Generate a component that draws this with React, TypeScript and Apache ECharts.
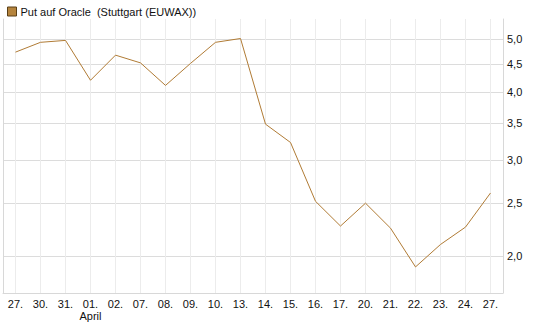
import React, { useEffect, useRef } from "react";
import * as echarts from "echarts";

const categories = ["27.", "30.", "31.", "01.", "02.", "07.", "08.", "09.", "10.", "13.", "14.", "15.", "16.", "17.", "20.", "21.", "22.", "23.", "24.", "27."];
const values = [4.73, 4.93, 4.97, 4.2, 4.67, 4.52, 4.11, 4.51, 4.93, 5.01, 3.49, 3.23, 2.52, 2.27, 2.5, 2.25, 1.91, 2.1, 2.26, 2.61];
const yTicks = [2.0, 2.5, 3.0, 3.5, 4.0, 4.5, 5.0];
const seriesName = "Put auf Oracle  (Stuttgart (EUWAX))";
const yMin = 1.711;
const yMax = 5.44;

const FONT = "'Liberation Sans', Arial, sans-serif";

export default function App() {
  const ref = useRef<HTMLDivElement>(null);
  useEffect(() => {
    if (!ref.current) return;
    const chart = echarts.init(ref.current, null, { renderer: "svg" });
    const lnTicks = yTicks.map((v) => Math.log(v));
    const fmt = (v: number) => Math.exp(v).toFixed(1).replace(".", ",");
    chart.setOption({
      animation: false,
      textStyle: { fontFamily: FONT },
      legend: {
        show: true,
        left: 2,
        top: 1,
        itemWidth: 9,
        itemHeight: 9,
        itemGap: 5,
        icon: "rect",
        textStyle: { fontFamily: FONT, fontSize: 11, color: "#111", padding: [0, 0, 0, -1] },
        data: [{ name: seriesName, itemStyle: { color: "#b5843d", borderColor: "#5a3f16", borderWidth: 1 } }],
      },
      grid: { left: 3, right: 42, top: 19, bottom: 34, containLabel: false },
      xAxis: {
        type: "category",
        data: categories,
        boundaryGap: true,
        axisLine: { show: true, lineStyle: { color: "#d8d8d8", width: 1 } },
        axisTick: { show: false, alignWithLabel: true },
        splitLine: { show: true, alignWithLabel: true, lineStyle: { color: "#ececec", width: 1 } },
        axisLabel: {
          interval: 0,
          margin: 5,
          fontFamily: FONT,
          fontSize: 11,
          color: "#111",
          lineHeight: 12,
          formatter: (v: string, i: number) => (i === 3 ? v + "\nApril" : v),
        },
      },
      yAxis: [
        {
          type: "value",
          position: "right",
          min: Math.log(yMin),
          max: Math.log(yMax),
          axisLine: { show: true, lineStyle: { color: "#d8d8d8", width: 1 } },
          axisTick: { show: false, customValues: lnTicks },
          splitLine: { show: true, lineStyle: { color: "#dcdcdc", width: 1 } },
          axisLabel: {
            customValues: lnTicks,
            margin: 4,
            fontFamily: FONT,
            fontSize: 11,
            color: "#111",
            formatter: (v: number) => fmt(v),
          },
        },
        {
          type: "value",
          position: "left",
          min: Math.log(yMin),
          max: Math.log(yMax),
          axisLine: { show: true, lineStyle: { color: "#d8d8d8", width: 1 } },
          axisTick: { show: false },
          splitLine: { show: false },
          axisLabel: { show: false },
        },
      ],
      series: [
        {
          name: seriesName,
          type: "line",
          yAxisIndex: 0,
          data: values.map((v) => Math.log(v)),
          symbol: "none",
          lineStyle: { color: "#b07b35", width: 1 },
          itemStyle: { color: "#b5843d" },
          silent: true,
        },
      ],
    });
    return () => chart.dispose();
  }, []);
  return <div ref={ref} style={{ width: 545, height: 327, position: "absolute", left: 0, top: 0 }} />;
}
